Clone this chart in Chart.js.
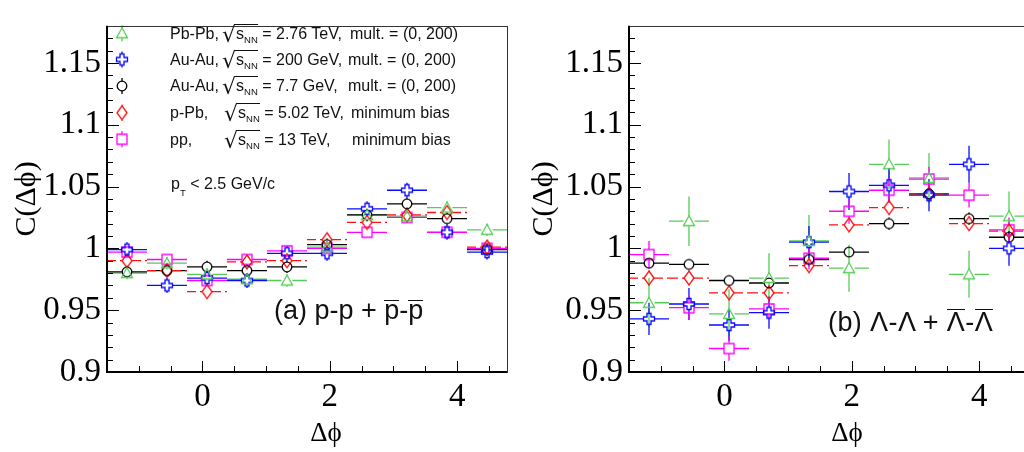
<!DOCTYPE html>
<html><head><meta charset="utf-8">
<script src="https://cdn.jsdelivr.net/npm/chart.js@4/dist/chart.umd.min.js"></script>
<style>
html,body{margin:0;padding:0;background:#fff;overflow:hidden;width:1024px;height:452px;}
#wrap{position:relative;width:1024px;height:452px;overflow:hidden;}
canvas{position:absolute;top:0;}
#cL{left:0}
#cR{left:522px}
.t{position:absolute;font-family:"Liberation Sans",Arial,sans-serif;font-size:16px;line-height:16px;color:#111;white-space:nowrap;}
.rt{font-family:"DejaVu Sans","Liberation Sans",sans-serif;font-size:22px;line-height:0;position:relative;top:3px;}
.ov{border-top:1px solid #111;}
.sb{font-size:9.5px;position:relative;top:4px;}
.sbt{font-size:9.5px;position:relative;top:7px;}
.big{font-size:27px;line-height:27px;}
.bp{display:inline-block;border-top:1.5px solid #111;line-height:0.715;}
.bl{display:inline-block;border-top:1.5px solid #111;line-height:0.927;}
.lam{letter-spacing:0.4px;}
.ax{position:absolute;font-family:"Liberation Serif","DejaVu Serif",serif;font-size:27px;line-height:27px;color:#000;white-space:nowrap;transform:translateX(-50%);}
</style></head>
<body>
<div id="wrap">
<canvas id="cL" width="520" height="452"></canvas>
<canvas id="cR" width="520" height="452"></canvas>

<div class="t" style="left:170px;top:25.8px">Pb-Pb,</div>
<div class="t" style="left:222px;top:25.8px"><span class="rt">√</span><span class="ov">s<span class="sb">NN</span></span> = 2.76 TeV,</div>
<div class="t" style="left:350px;top:25.8px">mult. = (0, 200)</div>

<div class="t" style="left:170px;top:52px">Au-Au,</div>
<div class="t" style="left:222px;top:52px"><span class="rt">√</span><span class="ov">s<span class="sb">NN</span></span> = 200 GeV,</div>
<div class="t" style="left:348px;top:52px">mult. = (0, 200)</div>

<div class="t" style="left:170px;top:78.3px">Au-Au,</div>
<div class="t" style="left:222px;top:78.3px"><span class="rt">√</span><span class="ov">s<span class="sb">NN</span></span> = 7.7 GeV,</div>
<div class="t" style="left:348px;top:78.3px">mult. = (0, 200)</div>

<div class="t" style="left:170px;top:104.8px">p-Pb,</div>
<div class="t" style="left:224px;top:104.8px"><span class="rt">√</span><span class="ov">s<span class="sb">NN</span></span> = 5.02 TeV,</div>
<div class="t" style="left:351px;top:104.8px">minimum bias</div>

<div class="t" style="left:170px;top:132px">pp,</div>
<div class="t" style="left:224px;top:132px"><span class="rt">√</span><span class="ov">s<span class="sb">NN</span></span> = 13 TeV,</div>
<div class="t" style="left:352px;top:132px">minimum bias</div>

<div class="t" style="left:171px;top:175.5px">p<span class="sbt">T</span> &lt; 2.5 GeV/c</div>

<div class="t big" style="left:274px;top:297px">(a) p-p + <span class="bp">p</span>-<span class="bp">p</span></div>
<div class="t big lam" style="left:828px;top:309px">(b) Λ-Λ + <span class="bl">Λ</span>-<span class="bl">Λ</span></div>

<div class="ax" style="left:326px;top:419.4px">Δϕ</div>
<div class="ax" style="left:847px;top:419.4px">Δϕ</div>
</div>

<script>
// ---------- data ----------
const binCenters = [-1.186, -0.558, 0.071, 0.699, 1.327, 1.956, 2.584, 3.212, 3.841, 4.469];
const binHalfWidth = 0.314;
const xTickValues = [0, 2, 4];
const xTickLabels = ['0', '2', '4'];
const yTickValues = [0.9, 0.95, 1, 1.05, 1.1, 1.15];
const yTickLabels = ['0.9', '0.95', '1', '1.05', '1.1', '1.15'];
const seriesNames = ['Pb-Pb 2.76 TeV', 'Au-Au 200 GeV', 'Au-Au 7.7 GeV', 'p-Pb 5.02 TeV', 'pp 13 TeV'];

// panel (a) p-p + pbar-pbar
const pA_PbPb   = [0.980, 0.988, 0.979, 0.975, 0.974, 1.001, 1.027, 1.026, 1.033, 1.015];
const pA_Au200  = [0.999, 0.970, 0.976, 0.974, 0.996, 0.996, 1.032, 1.047, 1.013, 0.997];
const pA_Au77   = [0.981, 0.982, 0.985, 0.982, 0.985, 1.003, 1.027, 1.036, 1.024, 0.999];
const pA_pPb    = [0.990, 0.982, 0.965, 0.989, 0.990, 1.007, 1.021, 1.027, 1.029, 1.001];
const pA_pp     = [0.997, 0.991, 0.974, 0.991, 0.998, 1.000, 1.013, 1.025, 1.013, 1.000];
const pA_PbPbErr  = [0.005, 0.005, 0.005, 0.005, 0.005, 0.005, 0.005, 0.005, 0.005, 0.005];
const pA_Au200Err = [0.006, 0.006, 0.006, 0.006, 0.006, 0.006, 0.006, 0.006, 0.006, 0.006];
const pA_Au77Err  = [0.005, 0.005, 0.005, 0.005, 0.005, 0.005, 0.005, 0.005, 0.005, 0.005];
const pA_pPbErr   = [0.004, 0.004, 0.004, 0.004, 0.004, 0.004, 0.004, 0.004, 0.004, 0.004];
const pA_ppErr    = [0.004, 0.004, 0.004, 0.004, 0.004, 0.004, 0.004, 0.004, 0.004, 0.004];

// panel (b) Lambda-Lambda + Lbar-Lbar
const lB_PbPb   = [0.956, 1.022, 0.947, 0.976, 1.006, 0.984, 1.068, 1.057, 0.979, 1.026];
const lB_Au200  = [0.943, 0.955, 0.938, 0.948, 1.005, 1.046, 1.051, 1.043, 1.068, 1.000];
const lB_Au77   = [0.988, 0.987, 0.974, 0.972, 0.991, 0.997, 1.020, 1.044, 1.024, 1.009];
const lB_pPb    = [0.976, 0.976, 0.964, 0.964, 0.986, 1.019, 1.033, 1.044, 1.020, 1.014];
const lB_pp     = [0.995, 0.952, 0.919, 0.951, 0.992, 1.030, 1.047, 1.056, 1.043, 1.015];
const lB_PbPbErr  = [0.020, 0.020, 0.020, 0.020, 0.021, 0.019, 0.020, 0.020, 0.019, 0.020];
const lB_Au200Err = [0.013, 0.013, 0.013, 0.013, 0.013, 0.015, 0.014, 0.013, 0.015, 0.014];
const lB_Au77Err  = [0.004, 0.004, 0.004, 0.004, 0.004, 0.004, 0.005, 0.004, 0.005, 0.004];
const lB_pPbErr   = [0.006, 0.006, 0.006, 0.006, 0.006, 0.006, 0.006, 0.006, 0.006, 0.006];
const lB_ppErr    = [0.011, 0.010, 0.010, 0.009, 0.009, 0.010, 0.010, 0.010, 0.010, 0.010];

// ---------- styles ----------
const specs = [
  {shape:'tri',     color:'#55cc55', dashed:false, gw:5.5, gh:5},
  {shape:'cross',   color:'#0a0aff', dashed:false, gw:5.5, gh:5.5},
  {shape:'circle',  color:'#000000', dashed:false, gw:4.8, gh:4.8},
  {shape:'diamond', color:'#ff1010', dashed:true,  gw:5,   gh:7},
  {shape:'square',  color:'#ff00ff', dashed:false, gw:5,   gh:5}
];

function marker(shape, color){
  const c = document.createElement('canvas'); c.width = 18; c.height = 18;
  const g = c.getContext('2d'); g.strokeStyle = color; g.lineWidth = 1.3; g.beginPath();
  const m = 9;
  if (shape === 'tri') { g.moveTo(m, m-5.5); g.lineTo(m+5.5, m+4.5); g.lineTo(m-5.5, m+4.5); g.closePath(); }
  else if (shape === 'cross') {
    const a = 5.5, b = 2;
    const p = [[-b,-a],[b,-a],[b,-b],[a,-b],[a,b],[b,b],[b,a],[-b,a],[-b,b],[-a,b],[-a,-b],[-b,-b]];
    p.forEach((q,i)=>{ if(i===0) g.moveTo(m+q[0], m+q[1]); else g.lineTo(m+q[0], m+q[1]); });
    g.closePath();
  }
  else if (shape === 'circle') { g.arc(m, m, 4.8, 0, Math.PI*2); }
  else if (shape === 'diamond') { g.moveTo(m, m-7); g.lineTo(m+5, m); g.lineTo(m, m+7); g.lineTo(m-5, m); g.closePath(); }
  else { g.rect(m-5, m-5, 10, 10); }
  g.stroke();
  return c;
}
const markerImgs = specs.map(s => marker(s.shape, s.color));

function makeSets(vals, errs){
  return specs.map((s,k)=>({
    label: seriesNames[k],
    data: binCenters.map((x,i)=>({x:x, y:vals[k][i]})),
    yErr: errs[k], color: s.color, dashed: s.dashed, gw: s.gw, gh: s.gh,
    pointStyle: markerImgs[k], pointRadius: 6, pointHoverRadius: 6, showLine: false
  }));
}

function seg(ctx, x1, y1, x2, y2){ ctx.beginPath(); ctx.moveTo(x1,y1); ctx.lineTo(x2,y2); ctx.stroke(); }

const errorBars = {
  id:'errorBars',
  beforeDatasetsDraw(chart){
    const {ctx, chartArea:a, scales:{x, y}} = chart;
    ctx.save();
    ctx.beginPath(); ctx.rect(a.left, a.top, a.right-a.left, a.bottom-a.top); ctx.clip();
    ctx.lineWidth = 1.3;
    chart.data.datasets.forEach(ds=>{
      ctx.strokeStyle = ds.color;
      ds.data.forEach((p,i)=>{
        const px = x.getPixelForValue(p.x), py = y.getPixelForValue(p.y);
        const xl = x.getPixelForValue(p.x - binHalfWidth), xr = x.getPixelForValue(p.x + binHalfWidth);
        const yt = y.getPixelForValue(p.y + ds.yErr[i]), yb = y.getPixelForValue(p.y - ds.yErr[i]);
        ctx.setLineDash(ds.dashed ? [9,4] : []);
        seg(ctx, xl, py, px - ds.gw, py);
        seg(ctx, px + ds.gw, py, xr, py);
        ctx.setLineDash([]);
        if (py - yt > ds.gh) { seg(ctx, px, yt, px, py - ds.gh); seg(ctx, px, py + ds.gh, px, yb); }
      });
    });
    ctx.restore();
  }
};

const frame = {
  id:'frame',
  afterDraw(chart){
    const {ctx, chartArea:a, scales:{x, y}} = chart;
    ctx.save();
    ctx.strokeStyle = '#000'; ctx.lineWidth = 1;
    for (let i = 90; i <= 118; i++){
      const py = Math.round(y.getPixelForValue(i/100)) + 0.5;
      const len = (i % 5 === 0) ? 12 : 6;
      seg(ctx, a.left, py, a.left + len, py);
    }
    for (let i = -2; i <= 9; i++){
      const v = i/2;
      const px = Math.round(x.getPixelForValue(v)) + 0.5;
      const len = (i % 4 === 0) ? 11 : 6;
      seg(ctx, px, a.bottom, px, a.bottom - len);
    }
    ctx.strokeStyle = '#333'; ctx.lineWidth = 1;
    ctx.strokeRect(Math.round(a.left)+0.5, Math.round(a.top)+0.5, Math.round(a.right-a.left), Math.round(a.bottom-a.top));
    ctx.strokeStyle = '#000'; ctx.lineWidth = 2;
    seg(ctx, Math.round(a.left), a.top, Math.round(a.left), a.bottom+1);
    seg(ctx, a.left-1, Math.round(a.bottom), a.right, Math.round(a.bottom));
    ctx.restore();
  }
};

const legendRowsY = [33.3, 59.5, 86, 112.7, 139.3];
const legendX = 122;
const legendMarks = {
  id:'legendMarks',
  afterDatasetsDraw(chart){
    const ctx = chart.ctx;
    ctx.save(); ctx.lineWidth = 1.3;
    specs.forEach((s,k)=>{
      const ry = legendRowsY[k];
      ctx.strokeStyle = s.color;
      seg(ctx, legendX, ry-8, legendX, ry - s.gh);
      seg(ctx, legendX, ry + s.gh, legendX, ry+8);
      ctx.drawImage(markerImgs[k], legendX-9, ry-9);
    });
    ctx.restore();
  }
};

function makeChart(id, sets, titlePad, extra){
  return new Chart(document.getElementById(id), {
    type:'scatter',
    data:{datasets:sets},
    options:{
      responsive:false, animation:false, devicePixelRatio:1,
      layout:{padding:{left:0, right:13, top:5, bottom:0}},
      plugins:{legend:{display:false}, tooltip:{enabled:false}},
      scales:{
        x:{
          type:'linear', min:-1.5, max:4.783,
          grid:{display:false, drawTicks:false}, border:{display:false},
          afterBuildTicks:s=>{ s.ticks = xTickValues.map(v=>({value:v})); },
          afterFit:s=>{ s.height = 80; },
          ticks:{ color:'#000', padding:6, autoSkip:false, maxRotation:0,
                  font:{family:'"Liberation Serif", "DejaVu Serif", serif', size:33},
                  callback:(v)=>xTickLabels[xTickValues.indexOf(v)] }
        },
        y:{
          type:'linear', min:0.9, max:1.18,
          grid:{display:false, drawTicks:false}, border:{display:false},
          afterBuildTicks:s=>{ s.ticks = yTickValues.map(v=>({value:v})); },
          afterFit:s=>{ s.width = 107; },
          ticks:{ color:'#000', padding:6, autoSkip:false,
                  font:{family:'"Liberation Serif", "DejaVu Serif", serif', size:33},
                  callback:(v)=>yTickLabels[yTickValues.indexOf(v)] },
          title:{ display:true, text:'C(Δϕ)', color:'#000',
                  font:{family:'"Liberation Serif", "DejaVu Serif", serif', size:30, lineHeight:1},
                  padding:{top:titlePad, bottom:0} }
        }
      }
    },
    plugins:[errorBars, frame].concat(extra)
  });
}

makeChart('cL', makeSets([pA_PbPb, pA_Au200, pA_Au77, pA_pPb, pA_pp], [pA_PbPbErr, pA_Au200Err, pA_Au77Err, pA_pPbErr, pA_ppErr]), 12, [legendMarks]);
makeChart('cR', makeSets([lB_PbPb, lB_Au200, lB_Au77, lB_pPb, lB_pp], [lB_PbPbErr, lB_Au200Err, lB_Au77Err, lB_pPbErr, lB_ppErr]), 7, []);
</script>
</body></html>
